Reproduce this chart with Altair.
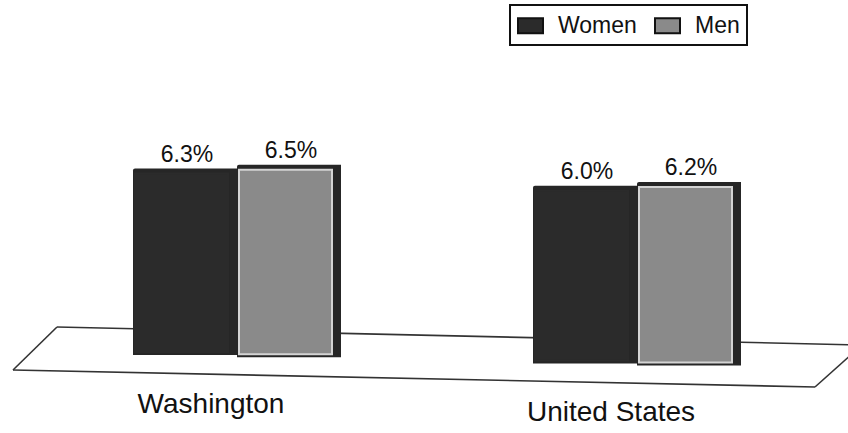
import altair as alt
import pandas as pd

# ---- chart values -------------------------------------------------------
REGIONS = ["Washington", "United States"]
GENDERS = ["Women", "Men"]
WOMEN = [6.3, 6.0]
MEN = [6.5, 6.2]

# ---- layout -------------------------------------------------------------
W, H = 848, 433
PX_PER_UNIT = 29.6          # vertical pixels per percentage point
BASE_PX = 355               # pixel row of the zero line under the first bar
SLOPE = 0.021               # the floor runs slightly downhill to the right
BAR_W = 104                 # width of one bar, also the x unit
GROUP_GAP = 400 / BAR_W     # distance between region groups, in bar widths
LEFT_PX = 133               # left edge of the first bar
Y_TOP = BASE_PX / PX_PER_UNIT
Y_DOMAIN = [Y_TOP - H / PX_PER_UNIT, Y_TOP]
X_DOMAIN = [-LEFT_PX / BAR_W, (W - LEFT_PX) / BAR_W]
LABEL_DROP = 57 / PX_PER_UNIT

FONT = "Liberation Sans"
DARK = "#2b2b2b"
GREY = "#8a8a8a"
EDGE = "#262626"

values = {"Women": WOMEN, "Men": MEN}
rows = []
for r, region in enumerate(REGIONS):
    for g, gender in enumerate(GENDERS):
        v = values[gender][r]
        left = r * GROUP_GAP + g
        base = -SLOPE * (left * BAR_W) / PX_PER_UNIT
        rows.append({"Region": region, "Gender": gender, "value": v,
                     "left": left, "right": left + 1, "mid": left + 0.5,
                     "base": base, "top": v + base, "label": f"{v:.1f}%"})
df = pd.DataFrame(rows)

reg_rows = []
for r, region in enumerate(REGIONS):
    center = r * GROUP_GAP + 1
    base = -SLOPE * ((center - 0.5) * BAR_W) / PX_PER_UNIT
    reg_rows.append({"Region": region, "cx": center, "ly": base - LABEL_DROP})
df_reg = pd.DataFrame(reg_rows)

x_scale = alt.Scale(domain=X_DOMAIN, nice=False, zero=False)
y_scale = alt.Scale(domain=Y_DOMAIN, nice=False, zero=False)

# ---- floor outline ------------------------------------------------------
dummy = pd.DataFrame({"k": [0]})
floor_edges = [
    (57, 327, 862, 345),   # back edge
    (13, 370, 815, 387),   # front edge
    (13, 370, 57, 327),    # left side
    (815, 387, 862, 345),  # right side
]
floor = [
    alt.Chart(dummy).mark_rule(color="#333333", strokeWidth=1.6).encode(
        x=alt.value(x1), y=alt.value(y1), x2=alt.value(x2), y2=alt.value(y2))
    for x1, y1, x2, y2 in floor_edges
]

# ---- bars ---------------------------------------------------------------
bar_pos = dict(
    x=alt.X("left:Q", scale=x_scale, axis=None),
    x2="right:Q",
    y=alt.Y("top:Q", scale=y_scale, axis=None),
    y2="base:Q",
)

bars = alt.Chart(df).mark_bar(color=EDGE, cornerRadiusTopLeft=2).encode(**bar_pos)

faces = alt.Chart(df).mark_bar(
    xOffset=2, x2Offset=-9, yOffset=5, y2Offset=-3, strokeWidth=2,
).encode(
    **bar_pos,
    fill=alt.Fill("Gender:N", sort=GENDERS,
                  scale=alt.Scale(domain=GENDERS, range=[DARK, GREY]),
                  legend=alt.Legend(title=None)),
    stroke=alt.condition("datum.Gender == 'Men'",
                         alt.value("#d4d4d4"), alt.value(DARK)),
)

value_labels = alt.Chart(df).mark_text(
    font=FONT, fontSize=23, baseline="alphabetic", dy=-7, dx=2,
    color="#111111",
).encode(x=alt.X("mid:Q", scale=x_scale, axis=None),
         y=alt.Y("top:Q", scale=y_scale, axis=None), text="label:N")

region_labels = alt.Chart(df_reg).mark_text(
    font=FONT, fontSize=28, baseline="alphabetic", dx=-26, color="#111111",
).encode(x=alt.X("cx:Q", scale=x_scale, axis=None),
         y=alt.Y("ly:Q", scale=y_scale, axis=None),
         text="Region:N")

chart = alt.layer(*floor, bars, faces, value_labels, region_labels).properties(
    width=W, height=H, padding=0,
    autosize=alt.AutoSizeParams(type="none"),
    background="white",
).configure_view(stroke=None).configure_legend(
    orient="none", legendX=510, legendY=5, direction="horizontal",
    labelFont=FONT, labelFontSize=23, labelColor="#111111",
    symbolType="M-1,-0.6H1V0.6H-1Z", symbolSize=625,
    symbolStrokeColor="#111111", symbolStrokeWidth=2, symbolOpacity=1,
    labelOffset=14, columnPadding=14, padding=7, gridAlign="all",
    strokeColor="#111111", strokeWidth=2,
)

chart.save("out.html", embed_options={"renderer": "svg", "actions": False})
